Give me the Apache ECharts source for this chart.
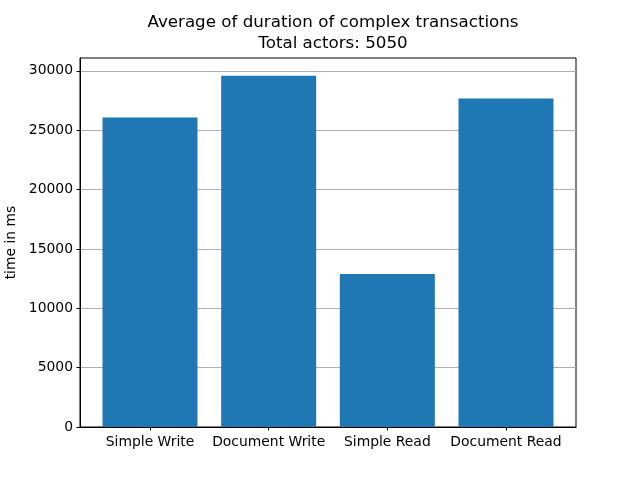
<!DOCTYPE html>
<html>
<head>
<meta charset="utf-8">
<script src="https://cdn.jsdelivr.net/npm/echarts@6/dist/echarts.min.js"></script>
<style>
  html, body { margin: 0; padding: 0; background: #fff; }
  #chart { width: 640px; height: 480px; }
</style>
</head>
<body>
<div id="chart"></div>
<script>
const categories = ['Simple Write', 'Document Write', 'Simple Read', 'Document Read'];
const durations = [26080, 29600, 12880, 27670];
const yTicks = [0, 5000, 10000, 15000, 20000, 25000, 30000];

const font = 'DejaVu Sans';
const chart = echarts.init(document.getElementById('chart'));

chart.setOption({
    animation: false,
    backgroundColor: '#fff',
    title: {
        text: 'Average of duration of complex transactions\nTotal actors: 5050',
        left: 328,
        top: 7,
        textAlign: 'center',
        textStyle: {
            fontFamily: font,
            fontSize: 16.7,
            fontWeight: 'normal',
            color: '#000',
            lineHeight: 21
        }
    },
    grid: {
        left: 80,
        right: 64,
        top: 58,
        bottom: 53,
        show: true,
        borderColor: '#000',
        borderWidth: 1,
        containLabel: false,
        outerBoundsMode: 'none'
    },
    xAxis: {
        type: 'value',
        min: -0.59,
        max: 3.59,
        splitLine: { show: false },
        axisLine: { onZero: false, lineStyle: { color: '#000' } },
        axisTick: {
            customValues: [0, 1, 2, 3],
            length: 3.5,
            lineStyle: { color: '#000' }
        },
        axisLabel: {
            customValues: [0, 1, 2, 3],
            formatter: v => categories[Math.round(v)],
            margin: 8,
            fontFamily: font,
            fontSize: 13.9,
            color: '#000'
        }
    },
    yAxis: {
        type: 'value',
        min: 0,
        max: 31085,
        interval: 5000,
        name: 'time in ms',
        nameLocation: 'middle',
        nameGap: 60,
        nameTextStyle: { fontFamily: font, fontSize: 13.9, color: '#000' },
        axisLine: { show: true, onZero: false, lineStyle: { color: '#000' } },
        axisTick: {
            show: true,
            customValues: yTicks,
            length: 3.5,
            lineStyle: { color: '#000' }
        },
        axisLabel: {
            customValues: yTicks,
            formatter: v => String(v),
            margin: 7,
            fontFamily: font,
            fontSize: 13.9,
            color: '#000'
        },
        splitLine: { show: true, lineStyle: { color: '#b0b0b0', width: 1 } }
    },
    series: [{
        type: 'bar',
        data: durations.map((v, i) => [i, v]),
        barWidth: 95,
        itemStyle: { color: '#1f77b4' }
    }]
});
</script>
</body>
</html>
